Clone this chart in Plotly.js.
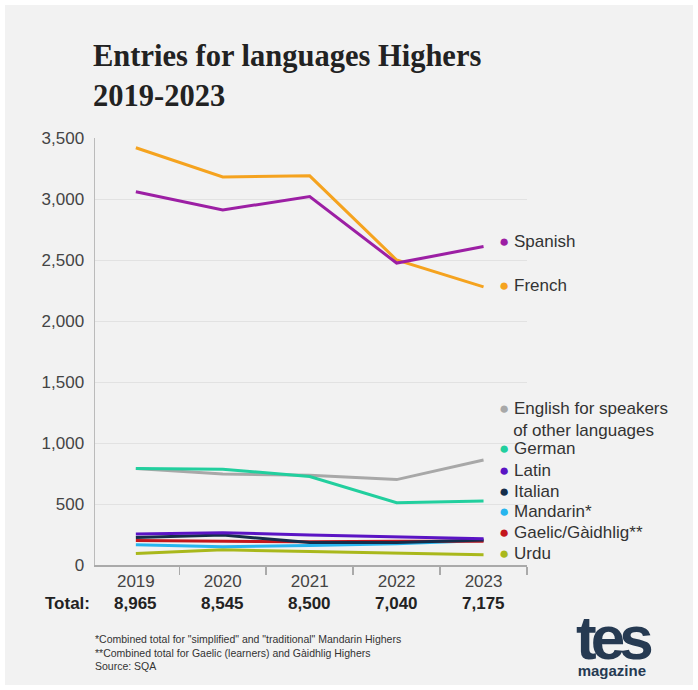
<!DOCTYPE html>
<html>
<head>
<meta charset="utf-8">
<script src="https://cdn.plot.ly/plotly-3.0.1.min.js"></script>
<style>
  html, body { margin: 0; padding: 0; background: #ffffff; }
  #chart { position: absolute; left: 5px; top: 5px; width: 688px; height: 680px; }
</style>
</head>
<body>
<div id="chart"></div>
<script>
// ---- data ----
const years = ['2019', '2020', '2021', '2022', '2023'];
const totals = ['8,965', '8,545', '8,500', '7,040', '7,175'];
const french = [3420, 3180, 3190, 2500, 2280];
const spanish = [3060, 2910, 3020, 2475, 2610];
const esol = [790, 745, 735, 700, 860];
const german = [790, 785, 725, 510, 525];
const latin = [255, 265, 245, 228, 215];
const italian = [225, 245, 185, 185, 205];
const gaelic = [200, 195, 190, 195, 195];
const mandarin = [165, 150, 160, 175, 200];
const urdu = [95, 125, 110, 100, 85];
const yTicks = [0, 500, 1000, 1500, 2000, 2500, 3000, 3500];

const seriesNames = ['Urdu', 'Mandarin*', 'Gaelic/Gàidhlig**', 'Italian', 'Latin',
  'English for speakers<br>of other languages', 'German', 'French', 'Spanish'];
const seriesValues = [urdu, mandarin, gaelic, italian, latin, esol, german, french, spanish];
const seriesColors = ['#a9b81c', '#27b5ee', '#c4161c', '#152d4a', '#5a14c4',
  '#a8a8a8', '#22cf9e', '#f5a31f', '#9c1fa4'];

// ---- layout helpers (page pixel -> paper) ----
const PX = x => (x - 95) / 432;
const PY = y => (565 - y) / 427;

const traces = seriesValues.map((v, i) => ({
  type: 'scatter', mode: 'lines', x: years, y: v, name: seriesNames[i],
  line: { color: seriesColors[i], width: 3 }, hoverinfo: 'x+y+name'
}));

// label positions (page y centers) for right-hand labels
const labelPageY = [553, 511, 532, 491, 470, 419, 449, 285, 241];

const font = 'Liberation Sans, Arial, sans-serif';
const annotations = [];
seriesNames.forEach((n, i) => {
  annotations.push({
    xref: 'paper', yref: 'paper', x: PX(497), y: PY(labelPageY[i]),
    xanchor: 'left', yanchor: 'middle', align: 'left', showarrow: false,
    text: '<span style="color:' + seriesColors[i] + '">●</span> ' + n.replace('<br>', '<br>   '),
    font: { family: font, size: 17, color: '#333' }
  });
});
// totals row
annotations.push({
  xref: 'paper', yref: 'paper', x: PX(92), y: PY(603), xanchor: 'right', yanchor: 'middle',
  showarrow: false, text: '<b>Total:</b>', font: { family: font, size: 17, color: '#222' }
});
years.forEach((yr, i) => {
  annotations.push({
    xref: 'x', yref: 'paper', x: i, y: PY(603), xanchor: 'center', yanchor: 'middle',
    showarrow: false, text: '<b>' + totals[i] + '</b>', font: { family: font, size: 17, color: '#222' }
  });
});
// title
annotations.push({
  xref: 'paper', yref: 'paper', x: PX(91), y: PY(76), xanchor: 'left', yanchor: 'middle',
  align: 'left', showarrow: false,
  text: '<b>Entries for languages Highers<br>2019-2023</b>',
  font: { family: 'Liberation Serif, DejaVu Serif, serif', size: 30.5, color: '#222' }
});
// footnotes
annotations.push({
  xref: 'paper', yref: 'paper', x: PX(93), y: PY(652), xanchor: 'left', yanchor: 'middle',
  align: 'left', showarrow: false,
  text: '*Combined total for "simplified" and "traditional" Mandarin Highers<br>**Combined total for Gaelic (learners) and Gàidhlig Highers<br>Source: SQA',
  font: { family: font, size: 10.5, color: '#333' }
});
// logo (one text block: "tes" over "magazine")
annotations.push({
  xref: 'paper', yref: 'paper', x: PX(613), y: PY(641), xanchor: 'center', yanchor: 'middle',
  align: 'center', showarrow: false, borderpad: 0,
  text: '<span style="font-size:62px;letter-spacing:-6px"><b>tes</b></span><br><span style="font-size:15px"><b>magazine</b></span>',
  font: { family: 'Liberation Sans Narrow, Liberation Sans, sans-serif', size: 13, color: '#263a52' }
});

const layout = {
  width: 688, height: 680,
  margin: { l: 90, r: 166, t: 133, b: 120 },
  paper_bgcolor: '#f2f2f2', plot_bgcolor: '#f2f2f2',
  showlegend: false,
  xaxis: {
    type: 'category', range: [-0.47, 4.5], tickson: 'boundaries',
    ticks: 'outside', ticklen: 8, tickcolor: '#aaa', tickwidth: 1.5,
    showline: true, linecolor: '#aaa', linewidth: 1.5, showgrid: false,
    tickfont: { family: font, size: 17, color: '#444' }
  },
  yaxis: {
    range: [0, 3500], tickvals: yTicks, tickformat: ',', showline: true,
    linecolor: '#bbb', linewidth: 1.5, gridcolor: '#e2e2e2', zeroline: false,
    ticks: '', ticklabelstandoff: 6,
    tickfont: { family: font, size: 17, color: '#444' }
  },
  annotations: annotations
};

Plotly.newPlot('chart', traces, layout, { displayModeBar: false, staticPlot: true });
</script>
</body>
</html>
